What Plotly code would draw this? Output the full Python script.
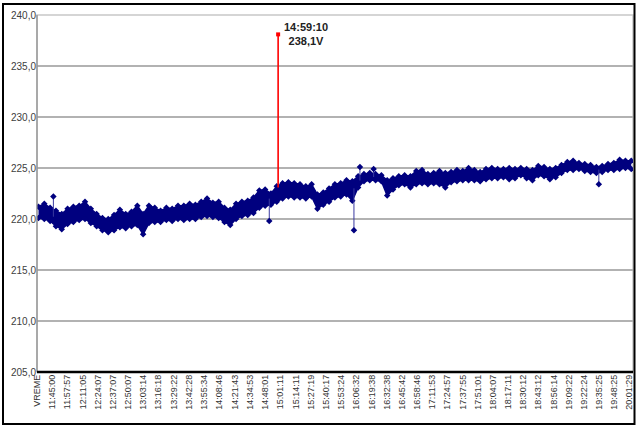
import numpy as np
import plotly.graph_objects as go


def hms(s):
    h, m, sec = (int(p) for p in s.split(":"))
    return h * 3600 + m * 60 + sec


# Category labels along the time axis (first one is the column header)
header_label = "VREME"
header_time = "11:32:02"
tick_labels = [
    "11:45:00", "11:57:57", "12:11:05", "12:24:07", "12:37:07", "12:50:07",
    "13:03:14", "13:16:18", "13:29:22", "13:42:28", "13:55:34", "14:08:46",
    "14:21:43", "14:34:53", "14:48:01", "15:01:11", "15:14:11", "15:27:19",
    "15:40:17", "15:53:24", "16:06:32", "16:19:38", "16:32:38", "16:45:42",
    "16:58:46", "17:11:53", "17:24:57", "17:37:55", "17:51:01", "18:04:07",
    "18:17:11", "18:30:12", "18:43:12", "18:56:14", "19:09:22", "19:22:24",
    "19:35:25", "19:48:25", "20:01:29",
]
range_end = "20:04:30"

# Voltage band: upper / lower extent of the readings, one value per 5 minutes
band_start = "11:33:00"
band_step_s = 300
v_high = [
    221.2, 221.5, 221.1, 220.8, 220.5, 221.0, 221.2, 221.3, 221.7, 221.0,
    220.5, 220.1, 220.0, 220.4, 220.9, 220.5, 220.7, 221.3, 220.5, 221.3,
    221.1, 220.8, 221.1, 221.0, 221.3, 221.3, 221.5, 221.4, 221.7, 222.0,
    221.6, 221.7, 221.1, 220.9, 221.5, 221.7, 221.8, 222.1, 222.8, 222.9,
    222.5, 223.2, 223.5, 223.6, 223.5, 223.4, 223.2, 223.4, 222.4, 222.6,
    223.0, 223.4, 223.5, 223.8, 223.7, 224.2, 224.4, 224.5, 224.4, 224.3,
    223.8, 224.0, 224.2, 224.3, 224.2, 224.7, 224.8, 224.4, 224.5, 224.7,
    224.5, 224.6, 224.8, 224.7, 225.0, 224.8, 224.6, 224.9, 225.0, 224.9,
    224.9, 225.0, 224.9, 225.0, 224.9, 224.8, 225.2, 225.1, 224.9, 225.0,
    225.3, 225.6, 225.7, 225.5, 225.4, 225.3, 225.1, 225.2, 225.4, 225.5,
    225.8, 225.7, 225.7,
]
v_low = [
    220.1, 220.0, 219.8, 219.3, 219.0, 219.5, 219.7, 219.9, 220.0, 219.6,
    219.3, 218.9, 218.7, 218.9, 219.2, 219.1, 219.3, 219.4, 218.5, 219.6,
    219.7, 219.7, 219.9, 219.8, 220.0, 219.9, 220.0, 220.0, 220.2, 220.3,
    220.2, 220.1, 219.7, 219.4, 220.0, 220.3, 220.4, 220.6, 221.1, 221.3,
    221.4, 221.7, 222.0, 222.2, 222.1, 222.1, 222.0, 222.2, 221.0, 221.4,
    221.7, 222.1, 222.2, 222.4, 221.8, 223.1, 223.7, 223.8, 223.8, 223.7,
    222.3, 222.9, 223.3, 223.4, 223.1, 223.4, 223.5, 223.4, 223.5, 223.4,
    223.1, 223.6, 223.7, 223.8, 223.8, 223.8, 223.7, 223.9, 224.0, 224.0,
    224.1, 223.9, 224.0, 224.3, 224.0, 223.8, 224.3, 224.2, 223.9, 224.1,
    224.5, 224.8, 224.8, 224.9, 224.7, 224.6, 224.5, 224.6, 224.8, 224.8,
    224.9, 225.0, 224.9,
]

# Isolated readings standing out of the band
outlier_times = ["11:45:48", "14:51:33", "16:04:24", "16:09:33", "16:21:20", "19:35:06"]
outlier_values = [222.2, 219.8, 218.9, 225.1, 224.9, 223.4]

# Peak reading
peak_time = "14:59:10"
peak_value = 238.1
peak_base = 223.1

y_ticks = [205, 210, 215, 220, 225, 230, 235, 240]

NAVY = "#00007f"
GRID = "#b2b2b2"
FONT = "Liberation Sans, Arial, sans-serif"

band_t = hms(band_start) + band_step_s * np.arange(len(v_high))
band_mid = (np.array(v_high) + np.array(v_low)) / 2

fig = go.Figure()

fig.add_trace(go.Scatter(
    x=band_t, y=v_low, mode="lines+markers",
    line=dict(color=NAVY, width=1.5),
    marker=dict(color=NAVY, size=5, symbol="diamond"),
    hoverinfo="skip",
))
fig.add_trace(go.Scatter(
    x=band_t, y=v_high, mode="lines+markers", fill="tonexty",
    fillcolor=NAVY,
    line=dict(color=NAVY, width=1.5),
    marker=dict(color=NAVY, size=5, symbol="diamond"),
    hoverinfo="skip",
))

for t_str, v in zip(outlier_times, outlier_values):
    t = hms(t_str)
    base = float(np.interp(t, band_t, band_mid))
    fig.add_trace(go.Scatter(
        x=[t, t], y=[base, v], mode="lines",
        line=dict(color="#3a3aa0", width=1), hoverinfo="skip",
    ))
    fig.add_trace(go.Scatter(
        x=[t], y=[v], mode="markers",
        marker=dict(color=NAVY, size=5, symbol="diamond"), hoverinfo="skip",
    ))

pt = hms(peak_time)
fig.add_trace(go.Scatter(
    x=[pt, pt], y=[peak_base, peak_value], mode="lines",
    line=dict(color="#ff0000", width=1.6), hoverinfo="skip",
))
fig.add_trace(go.Scatter(
    x=[pt], y=[peak_value], mode="markers",
    marker=dict(color="#ff0000", size=4, symbol="square"), hoverinfo="skip",
))

peak_label = f"{peak_value:.1f}".replace(".", ",")
fig.add_annotation(
    x=pt, y=peak_value, xref="x", yref="y",
    text=f"<b>{peak_time}</b><br><b>{peak_label}V</b>",
    showarrow=False, xanchor="left", yanchor="middle", xshift=4,
    align="center",
    font=dict(family=FONT, size=11, color="#222222"),
)

tickvals = [hms(header_time)] + [hms(t) for t in tick_labels]
ticktext = [header_label] + tick_labels

fig.update_xaxes(
    range=[hms(header_time) - 20, hms(range_end)],
    tickmode="array", tickvals=tickvals, ticktext=ticktext,
    tickangle=-90, tickfont=dict(family=FONT, size=9, color="#333333"),
    showgrid=False, zeroline=False, showline=False, ticks="",
)
fig.update_yaxes(
    range=[205, 240], tickmode="array", tickvals=y_ticks,
    ticktext=[f"{v:.1f}".replace(".", ",") for v in y_ticks],
    tickfont=dict(family=FONT, size=10, color="#404040"),
    showgrid=True, gridcolor=GRID, gridwidth=1.5,
    zeroline=False, showline=False, ticks="",
)

# plot frame, axes and outer border (paper units: plot area is 596 x 357 px)
PW, PH = 596.0, 357.0
fig.add_shape(type="rect", xref="paper", yref="paper", x0=0, x1=1, y0=0, y1=1,
              line=dict(color="#c8c8c8", width=1.5), layer="below")
fig.add_shape(type="line", xref="paper", yref="paper", x0=0, x1=0, y0=0, y1=1,
              line=dict(color="#8c8c8c", width=1.2))
fig.add_shape(type="line", xref="paper", yref="paper", x0=0, x1=1, y0=0, y1=0,
              line=dict(color="#000000", width=2.5))
fig.add_shape(type="rect", xref="paper", yref="paper",
              x0=-34 / PW, x1=1 + 1.5 / PW, y0=-52 / PH, y1=1 + 11 / PH,
              line=dict(color="#000000", width=2))

fig.update_layout(
    width=636, height=429,
    margin=dict(l=37, r=3, t=15, b=57),
    paper_bgcolor="white", plot_bgcolor="white",
    showlegend=False,
    font=dict(family=FONT),
)

fig.write_html("out.html")
